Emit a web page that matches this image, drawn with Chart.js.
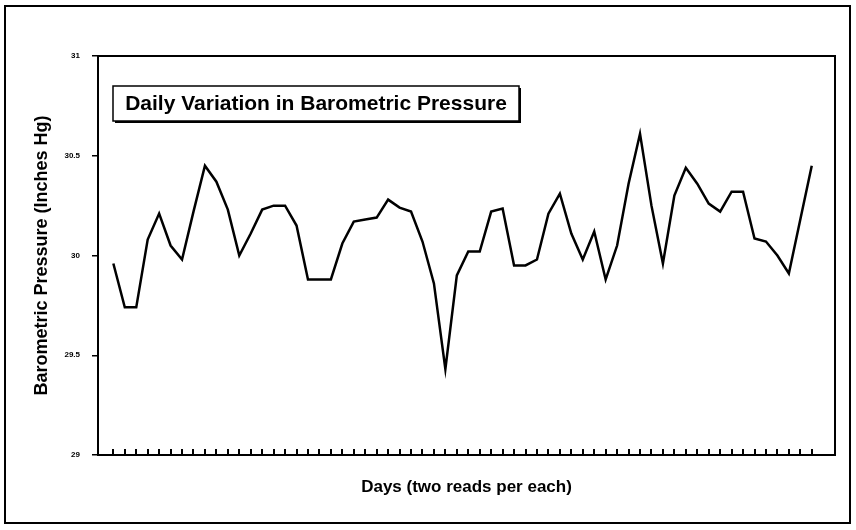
<!DOCTYPE html>
<html>
<head>
<meta charset="utf-8">
<script src="https://cdn.jsdelivr.net/npm/chart.js@4.4.1/dist/chart.umd.min.js"></script>
<style>
html,body{margin:0;padding:0;background:#fff;}
#grafico{display:block;}
</style>
</head>
<body>
<canvas id="grafico" width="856" height="530"></canvas>
<script>
var tituloGrafico = "Daily Variation in Barometric Pressure";
var tituloX = "Days (two reads per each)";
var tituloY = "Barometric Pressure (Inches Hg)";

// leituras (duas por dia)
var pressao = [
    29.96, 29.74, 29.74, 30.08, 30.21, 30.05, 29.98, 30.22, 30.45, 30.37,
    30.23, 30.00, 30.11, 30.23, 30.25, 30.25, 30.15, 29.88, 29.88, 29.88,
    30.06, 30.17, 30.18, 30.19, 30.28, 30.24, 30.22, 30.07, 29.86, 29.43,
    29.90, 30.02, 30.02, 30.22, 30.235, 29.95, 29.95, 29.98, 30.21, 30.31,
    30.11, 29.98, 30.12, 29.88, 30.05, 30.36, 30.61, 30.25, 29.96, 30.30,
    30.44, 30.36, 30.26, 30.22, 30.32, 30.32, 30.085, 30.07, 30.00, 29.91,
    30.18, 30.45
];
var leituras = pressao.map(function (v, i) { return i; });
var marcasY = [29, 29.5, 30, 30.5, 31];

var fonte = "'Liberation Sans', Arial, sans-serif";

var molduras = {
    id: 'molduras',
    afterDraw: function (chart) {
        var ctx = chart.ctx, area = chart.chartArea, sx = chart.scales.x;
        ctx.save();
        ctx.strokeStyle = '#000';
        ctx.lineWidth = 2;
        // moldura externa
        ctx.strokeRect(5, 6, 845, 517);
        // moldura da area do grafico
        ctx.strokeRect(area.left, area.top, area.right - area.left, area.bottom - area.top);
        // marcas dos dias, para dentro
        for (var i = 0; i < leituras.length; i++) {
            var px = Math.round(sx.getPixelForValue(leituras[i]));
            ctx.beginPath();
            ctx.moveTo(px, area.bottom);
            ctx.lineTo(px, area.bottom - 6);
            ctx.stroke();
        }
        // caixa do titulo com sombra
        var bx = area.left + 15, by = area.top + 30, bw = 406, bh = 35;
        ctx.fillStyle = '#000';
        ctx.fillRect(bx + 2, by + 2, bw, bh);
        ctx.fillStyle = '#fff';
        ctx.fillRect(bx, by, bw, bh);
        ctx.lineWidth = 1.5;
        ctx.strokeRect(bx, by, bw, bh);
        ctx.fillStyle = '#000';
        ctx.font = "bold 21px " + fonte;
        ctx.textAlign = 'center';
        ctx.textBaseline = 'middle';
        ctx.fillText(tituloGrafico, bx + bw / 2, by + bh / 2 + 1);
        ctx.restore();
    }
};

new Chart(document.getElementById('grafico'), {
    type: 'line',
    data: {
        datasets: [{
            data: pressao.map(function (v, i) { return { x: leituras[i], y: v }; }),
            borderColor: '#000',
            borderWidth: 2.5,
            pointRadius: 0,
            tension: 0,
            fill: false
        }]
    },
    options: {
        responsive: false,
        animation: false,
        layout: { padding: { top: 56, right: 21, left: 0, bottom: 0 } },
        plugins: {
            legend: { display: false },
            tooltip: { enabled: false },
            title: { display: false }
        },
        scales: {
            x: {
                type: 'linear',
                min: -1.34,
                max: 63.03,
                afterFit: function (s) { s.height = 75; },
                grid: { display: false },
                border: { display: false },
                ticks: { display: false },
                title: {
                    display: true,
                    text: tituloX,
                    color: '#000',
                    font: { family: fonte, size: 17, weight: 'bold' },
                    padding: { top: 0, bottom: 32 }
                }
            },
            y: {
                min: 29,
                max: 31,
                afterFit: function (s) { s.width = 98; },
                afterBuildTicks: function (s) {
                    s.ticks = marcasY.map(function (v) { return { value: v }; });
                },
                grid: {
                    drawOnChartArea: false,
                    drawTicks: true,
                    tickLength: 6,
                    color: '#000',
                    lineWidth: 1.5
                },
                border: { display: true, color: '#000', width: 2 },
                ticks: {
                    color: '#000',
                    padding: 12,
                    font: { family: fonte, size: 8, weight: 'bold' },
                    callback: function (v) { return String(v); }
                },
                title: {
                    display: true,
                    text: tituloY,
                    color: '#000',
                    font: { family: fonte, size: 18, weight: 'bold' },
                    padding: { top: 31, bottom: 0 }
                }
            }
        }
    },
    plugins: [molduras]
});
</script>
</body>
</html>
